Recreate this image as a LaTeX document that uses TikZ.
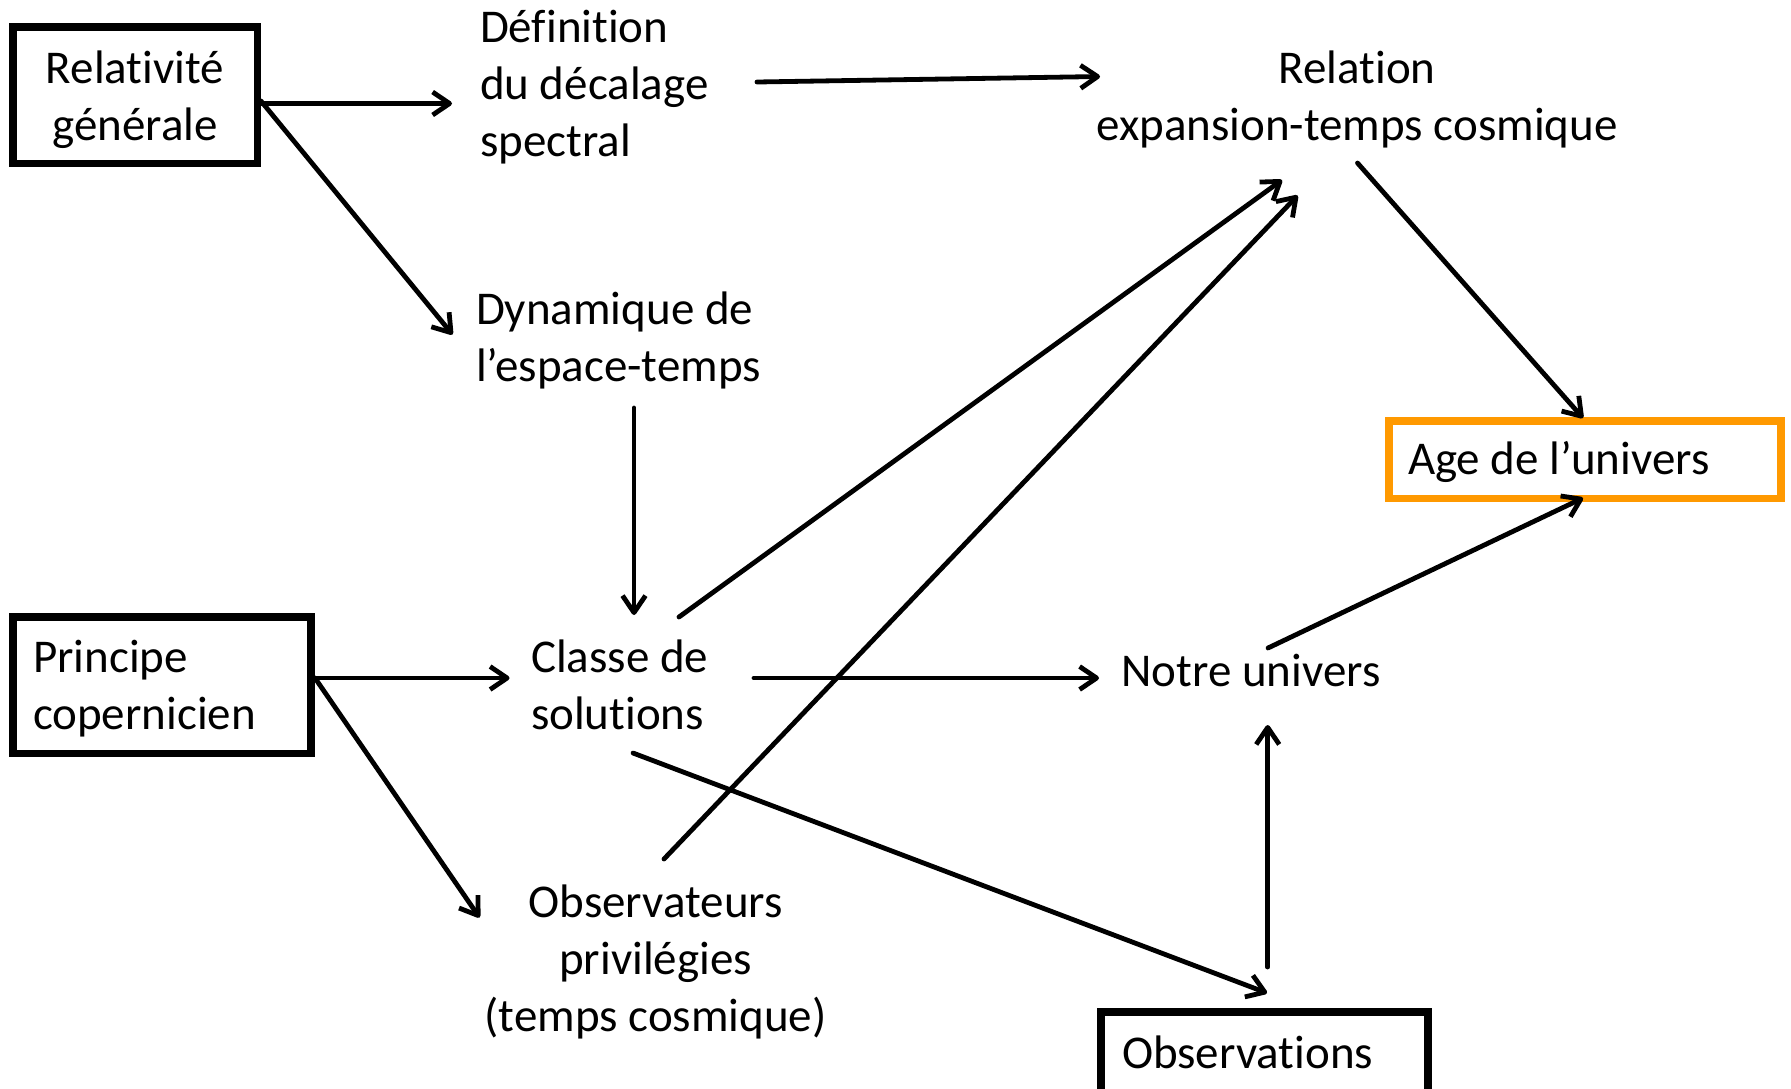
\documentclass[tikz,border=0pt]{standalone}
\usepackage{fontspec}
\setmainfont{Carlito}[RawFeature={-liga;-dlig;-clig}]
\usetikzlibrary{arrows.meta}
\definecolor{boxorange}{RGB}{255,153,0}
\newcommand{\lowertxt}[2]{\raisebox{-#1}[\height][\depth]{#2}}
\begin{document}
\begin{tikzpicture}[x=0.5pt,y=-0.5pt,
  every node/.style={font=\fontsize{23.5}{28.5}\selectfont, inner sep=0pt, outer sep=0pt},
  ltxt/.style={align=left, anchor=west},
  ctxt/.style={align=center},
  bbox/.style={draw=black, line width=3.75pt},
  obox/.style={draw=boxorange, line width=3.75pt},
  arr/.style={line width=2.4pt, line cap=round, -{Straight Barb[length=8.5pt,width=11.5pt,line join=round]}}
]
\useasboundingbox (0,0) rectangle (1791,1088);

% boxed nodes
\node[bbox, minimum width=122.25pt, minimum height=68.25pt] (rel) at (135,95) {\lowertxt{2.5pt}{\parbox{100pt}{\centering Relativité\\générale}}};
\node[bbox, align=flush left, text width=129pt, inner xsep=10.1pt, minimum height=68.25pt] (pri) at (162,685) {\lowertxt{2pt}{\parbox{129pt}{Principe\\copernicien}}};
\node[obox, align=flush left, text width=177pt, inner xsep=9.6pt, minimum height=38.75pt] (age) at (1585,459.5) {\lowertxt{1.2pt}{Age de l’univers}};
\node[bbox, align=flush left, text width=142.5pt, inner xsep=10.6pt, minimum height=40.25pt] (obs) at (1264.5,1052) {Observations};

% text nodes
\node[ltxt] (def) at (480,87) {Définition\\du décalage\\spectral};
\node[ctxt] (relexp) at (1357,99.5) {Relation\\expansion-temps cosmique};
\node[ltxt] (dyn) at (476,340.5) {Dynamique de\\l’espace-temps};
\node[ltxt] (cla) at (531,684.5) {Classe de\\solutions};
\node[ltxt] (not) at (1121.6,670.5) {Notre univers};
\node[ctxt] (obsv) at (655.6,962) {Observateurs\\privilégies\\(temps cosmique)};

% connector end points
\coordinate (relA) at (261,103.5);
\coordinate (relB) at (261,101);
\coordinate (defIn) at (452,103.5);
\coordinate (dynIn) at (452.5,334.5);
\coordinate (defOut) at (757,82);
\coordinate (relexpInA) at (1100,76.5);
\coordinate (dynOut) at (634,408);
\coordinate (claIn) at (634,615);
\coordinate (claOutA) at (679,617);
\coordinate (relexpInB) at (1282,180);
\coordinate (obsvOut) at (664,859);
\coordinate (relexpInC) at (1297.6,195.5);
\coordinate (relexpOut) at (1357.5,163);
\coordinate (ageInA) at (1583,418);
\coordinate (priA) at (315,678);
\coordinate (claInB) at (509.5,678);
\coordinate (obsvIn) at (479.5,917.5);
\coordinate (claOutB) at (754,678);
\coordinate (notIn) at (1099,678);
\coordinate (claOutC) at (633,753);
\coordinate (obsIn) at (1267,993);
\coordinate (obsOut) at (1267.7,967);
\coordinate (notInB) at (1267.7,725);
\coordinate (notOut) at (1268,648);
\coordinate (ageInB) at (1583,498);

% connectors
\draw[arr] (relA) -- (defIn);
\draw[arr] (relB) -- (dynIn);
\draw[arr] (defOut) -- (relexpInA);
\draw[arr] (dynOut) -- (claIn);
\draw[arr] (claOutA) -- (relexpInB);
\draw[arr] (obsvOut) -- (relexpInC);
\draw[arr] (relexpOut) -- (ageInA);
\draw[arr] (priA) -- (claInB);
\draw[arr] (priA) -- (obsvIn);
\draw[arr] (claOutB) -- (notIn);
\draw[arr] (claOutC) -- (obsIn);
\draw[arr] (obsOut) -- (notInB);
\draw[arr] (notOut) -- (ageInB);
\end{tikzpicture}
\end{document}
